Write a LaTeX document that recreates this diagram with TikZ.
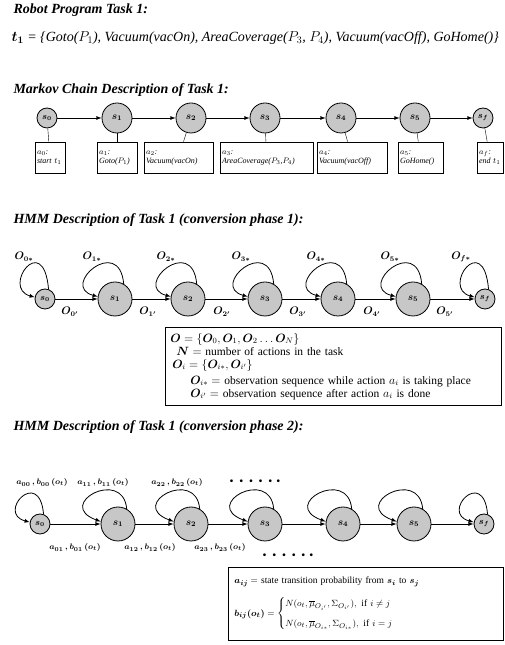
\documentclass[tikz,border=0pt]{standalone}
\usepackage{fontspec}
\setmainfont{Liberation Serif}
\usepackage{amsmath}
\usepackage{bm}

\begin{document}
\begin{tikzpicture}[x=1pt,y=1pt,
  heading/.style={anchor=west,font=\fontsize{14}{16}\selectfont\bfseries\itshape},
  st/.style={circle,draw,thick,fill=black!22,inner sep=0pt,minimum size=34,font=\boldmath\normalsize},
  smallst/.style={st,minimum size=20,font=\boldmath\small},
  mst/.style={st,minimum size=30},
  actbox/.style={draw,thick,minimum height=31,inner sep=2pt,align=left,font=\itshape\fontsize{8}{9}\selectfont},
  trans/.style={thick,-latex},
  olbl/.style={font=\boldmath\fontsize{10.5}{12}\selectfont\itshape},
  albl/.style={font=\boldmath\fontsize{8.5}{10}\selectfont},
  infobox/.style={draw,thick,anchor=north west,align=left,inner sep=6pt}
]
\useasboundingbox (0,0) rectangle (505,645);

\node[heading] (title1) at (10,635) {Robot Program Task 1:};
\node[anchor=west,font=\fontsize{14}{16}\selectfont\itshape] (prog) at (8,607)
  {$\bm{t_1}$ = \{Goto($P_1$), Vacuum(vacOn), AreaCoverage($P_3$, $P_4$), Vacuum(vacOff), GoHome()\}};

\node[heading] (title2) at (10,555) {Markov Chain Description of Task 1:};

\node[smallst] (m0) at (47,527) {$s_0$};
\node[mst] (m1) at (117,527) {$s_1$};
\node[mst] (m2) at (191,527) {$s_2$};
\node[mst] (m3) at (265,527) {$s_3$};
\node[mst] (m4) at (341,527) {$s_4$};
\node[mst] (m5) at (415,527) {$s_5$};
\node[smallst] (mf) at (483,527) {$s_f$};
\draw[trans] (m0) -- (m1);
\draw[trans] (m1) -- (m2);
\draw[trans] (m2) -- (m3);
\draw[trans] (m3) -- (m4);
\draw[trans] (m4) -- (m5);
\draw[trans] (m5) -- (mf);

\node[actbox,text width=26] (b0) at (50,487.5) {$a_0$:\\start $t_1$};
\node[actbox,text width=36] (b1) at (117,487.5) {$a_1$:\\Goto($P_1$)};
\node[actbox,text width=65] (b2) at (178.5,487.5) {$a_2$:\\Vacuum(vacOn)};
\node[actbox,text width=89] (b3) at (266.5,487.5) {$a_3$:\\AreaCoverage($P_3$,$P_4$)};
\node[actbox,text width=66] (b4) at (352,487.5) {$a_4$:\\Vacuum(vacOff)};
\node[actbox,text width=41] (b5) at (420.5,487.5) {$a_5$:\\GoHome()};
\node[actbox,text width=22] (bf) at (490,487.5) {$a_f$:\\end $t_1$};
\draw (m0) -- (b0);
\draw (m1) -- (b1);
\draw (m2) -- (b2);
\draw (m3) -- (b3);
\draw (m4) -- (b4);
\draw (m5) -- (b5);
\draw (mf) -- (bf);

\node[heading] (title3) at (10,425) {HMM Description of Task 1 (conversion phase 1):};

\node[smallst] (p0) at (45,346) {$s_0$};
\node[st] (p1) at (115,346) {$s_1$};
\node[st] (p2) at (188,346) {$s_2$};
\node[st] (p3) at (265,346) {$s_3$};
\node[st] (p4) at (338,346) {$s_4$};
\node[st] (p5) at (413,346) {$s_5$};
\node[smallst] (pf) at (485,346) {$s_f$};
\draw[trans] (p0) -- (p1);
\draw[trans] (p1) -- (p2);
\draw[trans] (p2) -- (p3);
\draw[trans] (p3) -- (p4);
\draw[trans] (p4) -- (p5);
\draw[trans] (p5) -- (pf);
\draw[trans] (p0.70) to[out=95,in=165,out distance=60,in distance=35] (p0.170);
\draw[trans] (p1.60) to[out=95,in=165,out distance=50,in distance=40] (p1.172);
\draw[trans] (p2.60) to[out=95,in=165,out distance=50,in distance=40] (p2.172);
\draw[trans] (p3.60) to[out=95,in=165,out distance=50,in distance=40] (p3.172);
\draw[trans] (p4.60) to[out=95,in=165,out distance=50,in distance=40] (p4.172);
\draw[trans] (p5.60) to[out=95,in=165,out distance=50,in distance=40] (p5.172);
\draw[trans] (pf.70) to[out=95,in=165,out distance=60,in distance=35] (pf.170);

\node[olbl] (o0s) at (24,388) {$O_{0*}$};
\node[olbl] (o1s) at (92,388) {$O_{1*}$};
\node[olbl] (o2s) at (166,388) {$O_{2*}$};
\node[olbl] (o3s) at (241,388) {$O_{3*}$};
\node[olbl] (o4s) at (316,388) {$O_{4*}$};
\node[olbl] (o5s) at (390,388) {$O_{5*}$};
\node[olbl] (ofs) at (461,388) {$O_{f*}$};
\node[olbl] (o0d) at (70,333) {$O_{0'}$};
\node[olbl] (o1d) at (148,333) {$O_{1'}$};
\node[olbl] (o2d) at (222,333) {$O_{2'}$};
\node[olbl] (o3d) at (298,333) {$O_{3'}$};
\node[olbl] (o4d) at (372,333) {$O_{4'}$};
\node[olbl] (o5d) at (445,333) {$O_{5'}$};

\node[infobox,text width=326,minimum height=78,inner sep=5pt,font=\fontsize{11.5}{13}\selectfont] (obsbox) at (165,318)
  {$\bm{O}=\{\bm{O}_0,\bm{O}_1,\bm{O}_2\ldots\bm{O}_N\}$\\
   \hspace*{6pt}$\bm{N}=$ number of actions in the task\\
   \hspace*{2pt}$\bm{O}_i=\{\bm{O}_{i*},\bm{O}_{i'}\}$\\[3pt]
   \hspace*{20pt}$\bm{O}_{i*}=$ observation sequence while action $a_i$ is taking place\\
   \hspace*{20pt}$\bm{O}_{i'}=$ observation sequence after action $a_i$ is done};

\node[heading] (title4) at (10,218) {HMM Description of Task 1 (conversion phase 2):};

\node[smallst] (q0) at (40,121) {$s_0$};
\node[st] (q1) at (118,121) {$s_1$};
\node[st] (q2) at (191,121) {$s_2$};
\node[st] (q3) at (265,121) {$s_3$};
\node[st] (q4) at (343,121) {$s_4$};
\node[st] (q5) at (414,121) {$s_5$};
\node[smallst] (qf) at (484,121) {$s_f$};
\draw[trans] (q0) -- (q1);
\draw[trans] (q1) -- (q2);
\draw[trans] (q2) -- (q3);
\draw[trans] (q3) -- (q4);
\draw[trans] (q4) -- (q5);
\draw[trans] (q5) -- (qf);
\draw[trans] (q0.70) to[out=95,in=165,out distance=48,in distance=35] (q0.170);
\draw[trans] (q1.60) to[out=95,in=160,out distance=42,in distance=50] (q1.172);
\draw[trans] (q2.60) to[out=95,in=160,out distance=42,in distance=50] (q2.172);
\draw[trans] (q3.60) to[out=95,in=160,out distance=42,in distance=50] (q3.172);
\draw[trans] (q4.60) to[out=95,in=160,out distance=42,in distance=50] (q4.172);
\draw[trans] (q5.60) to[out=95,in=160,out distance=42,in distance=50] (q5.172);
\draw[trans] (qf.70) to[out=95,in=165,out distance=48,in distance=35] (qf.170);

\node[albl] (a00) at (42,162) {$a_{00}\,,b_{00}\,(o_t)$};
\node[albl] (a11) at (103,162) {$a_{11}\,,b_{11}\,(o_t)$};
\node[albl] (a22) at (177,162) {$a_{22}\,,b_{22}\,(o_t)$};
\node[albl] (dots1) at (255,164) {\tiny$\bullet\hspace{4pt}\bullet\hspace{4pt}\bullet\hspace{4pt}\bullet\hspace{4pt}\bullet\hspace{4pt}\bullet$};
\node[albl] (a01) at (75,97) {$a_{01}\,,b_{01}\,(o_t)$};
\node[albl] (a12) at (150,97) {$a_{12}\,,b_{12}\,(o_t)$};
\node[albl] (a23) at (220,97) {$a_{23}\,,b_{23}\,(o_t)$};
\node[albl] (dots2) at (288,90) {\tiny$\bullet\hspace{4pt}\bullet\hspace{4pt}\bullet\hspace{4pt}\bullet\hspace{4pt}\bullet\hspace{4pt}\bullet$};

\node[infobox,text width=263,minimum height=73,inner ysep=3pt,font=\fontsize{9.5}{11}\selectfont] (probbox) at (228,78)
  {$\bm{a_{ij}}=$ state transition probability from $\bm{s_i}$ to $\bm{s_j}$\\[9pt]
   $\bm{b_{ij}(o_t)}=\begin{cases}N(o_t,\overline{\mu}_{O_{i'}},\Sigma_{O_{i'}}),\ \text{if } i\neq j\\[7pt]
   N(o_t,\overline{\mu}_{O_{i*}},\Sigma_{O_{i*}}),\ \text{if } i=j\end{cases}$};
\end{tikzpicture}
\end{document}
